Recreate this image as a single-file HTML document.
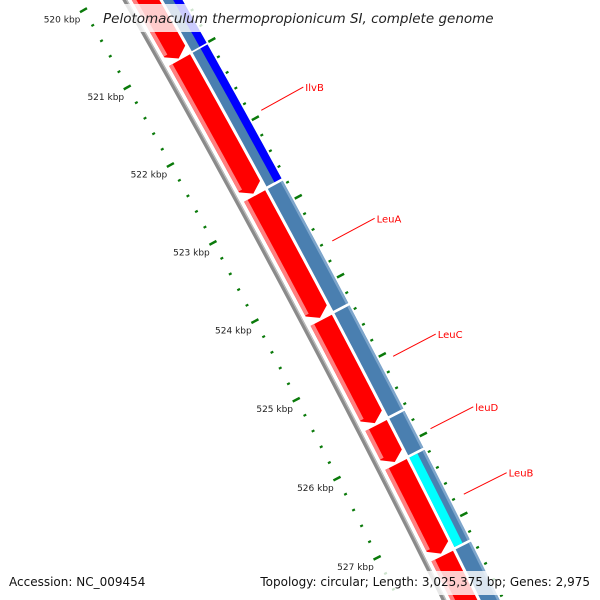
<!DOCTYPE html>
<html><head><meta charset="utf-8"><style>
html,body{margin:0;padding:0;background:#fff;width:600px;height:600px;overflow:hidden}
svg{display:block;font-family:"DejaVu Sans","Liberation Sans",sans-serif}
</style></head><body>
<svg id="map" width="600" height="600" viewBox="0 0 600 600" overflow="hidden" xmlns="http://www.w3.org/2000/svg">
<g id="tracks"></g>
<rect x="96" y="4" width="408" height="28" fill="#fff" fill-opacity="0.8"/>
<text x="103" y="23" font-size="13.5" font-style="italic" fill="#222">Pelotomaculum thermopropionicum SI, complete genome</text>
<rect x="0" y="571" width="600" height="24" fill="#fff" fill-opacity="0.8"/>
<text x="9" y="586" font-size="12" fill="#111">Accession: NC_009454</text>
<text x="590" y="586" font-size="12" fill="#111" text-anchor="end">Topology: circular; Length: 3,025,375 bp; Genes: 2,975</text>
</svg>
<script>
const majorTicksKbp = [520, 521, 522, 523, 524, 525, 526, 527];
const geneNames = ["", "IlvB", "LeuA", "LeuC", "leuD", "LeuB", ""];
const geneStarts = [519.0, 521.02, 522.76, 524.34, 525.67, 526.16, 527.31];
const geneEnds = [521.0, 522.73, 524.31, 525.64, 526.13, 527.28, 528.6];
const cogHighlight = ["blue", "blue", "", "", "", "cyan", ""];

const NS = "http://www.w3.org/2000/svg";
const Rr = 11500, k = 0.00772;
const phi0 = -28.2 * Math.PI / 180;
const P = [234, 282];
const C = [P[0] - Rr * Math.cos(phi0), P[1] - Rr * Math.sin(phi0)];
function pt(kbp, off) {
  const a = phi0 + (kbp - 523.5) * k, r = Rr + off;
  return [C[0] + r * Math.cos(a), C[1] + r * Math.sin(a)];
}
const g = document.getElementById('tracks');
function mk(tag, attrs) { const e = document.createElementNS(NS, tag); for (const a in attrs) e.setAttribute(a, attrs[a]); g.appendChild(e); return e; }
function band(a, b, r1, r2, arrow) {
  const pts = [], n = 30, tip = arrow ? 0.09 : 0;
  for (let i = 0; i <= n; i++) pts.push(pt(a + (b - tip - a) * i / n, r2));
  if (arrow) pts.push(pt(b, (r1 + r2) / 2));
  for (let i = n; i >= 0; i--) pts.push(pt(a + (b - tip - a) * i / n, r1));
  return "M" + pts.map(p => p[0].toFixed(2) + "," + p[1].toFixed(2)).join("L") + "Z";
}
function arcLine(a, b, r) {
  const pts = []; for (let i = 0; i <= 60; i++) pts.push(pt(a + (b - a) * i / 60, r));
  return "M" + pts.map(p => p[0].toFixed(2) + "," + p[1].toFixed(2)).join("L");
}
let e = mk('path', { d: arcLine(519, 529, 41), stroke: '#8a8a8a', 'stroke-width': 4.5, fill: 'none' });


e = mk('path', { d: arcLine(519, 529, 42.5), stroke: '#bdbdbd', 'stroke-width': 1.2, fill: 'none' });


for (let i = 0; i < geneStarts.length; i++) {
  const s = geneStarts[i], t = geneEnds[i];
  e = mk('path', { d: band(s, t, 47, 71, true), fill: '#ff0000' });
  
  
  e = mk('path', { d: band(s, t - 0.1, 47, 51, false), fill: '#ff8080' });
  
  
  e = mk('path', { d: band(s, t, 74, 91, false), fill: '#4a7fb0' });
  
  
  e = mk('path', { d: band(s, t, 88.5, 91, false), fill: '#7ea6cc' });
  
  
  if (cogHighlight[i] === 'blue') {
    e = mk('path', { d: band(s, t, 83, 91, false), fill: '#0000ff' });
    
    
  } else if (cogHighlight[i] === 'cyan') {
    e = mk('path', { d: band(s, t, 74, 83, false), fill: '#00ffff' });
    
    
  }
  if (geneNames[i]) {
    const m = (s + t) / 2 + 0.08;
    const p1 = pt(m, 106), p2 = pt(m, 154);
    e = mk('line', { x1: p1[0], y1: p1[1], x2: p2[0], y2: p2[1], stroke: '#ff0000', 'stroke-width': 1 });
    
    
    e = mk('text', { x: p2[0] + 2, y: p2[1] + 4, 'font-size': 10, fill: '#ff0000' });
    e.textContent = geneNames[i];
    
    
  }
}
for (let v = 519.0; v <= 528.6; v += 0.2) {
  const kb = Math.round(v * 10) / 10;
  const major = majorTicksKbp.indexOf(kb) >= 0;
  let a = pt(kb, major ? -4 : -1), b = pt(kb, major ? 4 : 2);
  e = mk('line', { x1: a[0], y1: a[1], x2: b[0], y2: b[1], stroke: '#0a7a0a', 'stroke-width': major ? 2.5 : 2.2 });
  
  
  a = pt(kb, 93); b = pt(kb, major ? 101 : 96);
  e = mk('line', { x1: a[0], y1: a[1], x2: b[0], y2: b[1], stroke: '#0a7a0a', 'stroke-width': major ? 2.5 : 2.2 });
  
  
  if (major) {
    const l = pt(kb, -7);
    e = mk('text', { x: l[0] + 3, y: l[1] + 9, 'font-size': 9, fill: '#222', 'text-anchor': 'end' });
    e.textContent = kb + ' kbp';
    
    
  }
}
</script>
</body></html>
